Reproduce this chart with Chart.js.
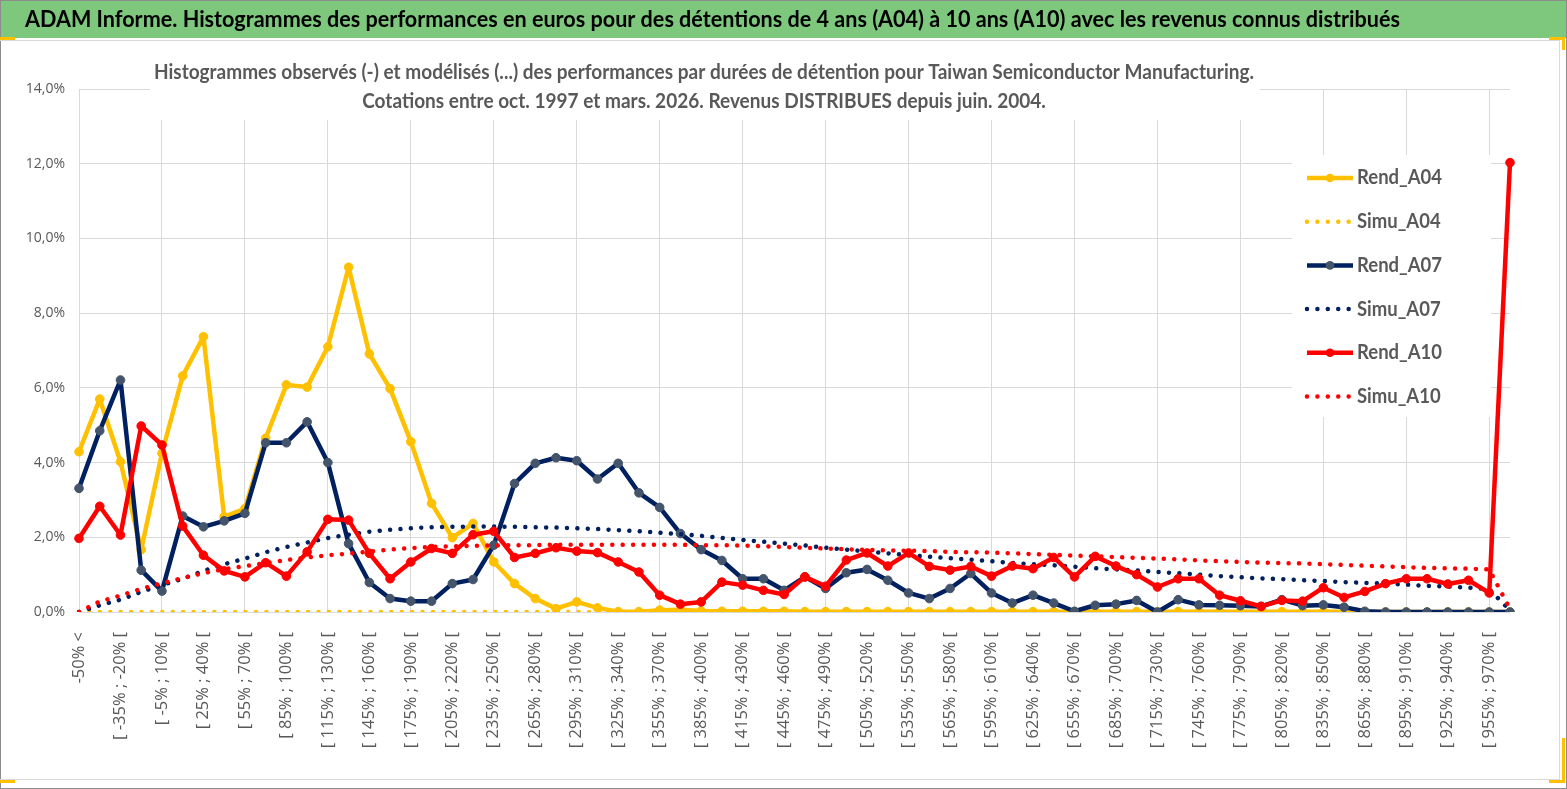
<!DOCTYPE html>
<html>
<head>
<meta charset="utf-8">
<script src="https://cdn.jsdelivr.net/npm/chart.js@4.4.1/dist/chart.umd.min.js"></script>
<style>
  html, body { margin: 0; padding: 0; background: #fff; }
  canvas { display: block; }
</style>
</head>
<body>
<canvas id="chart" width="1567" height="789"></canvas>
<script>
const titleText = "ADAM Informe. Histogrammes des performances en euros pour des détentions de 4 ans (A04) à 10 ans (A10) avec les revenus connus distribués"
const subtitleLines = [
  "Histogrammes observés (-) et modélisés (...) des performances par durées de détention pour Taiwan Semiconductor Manufacturing.",
  "Cotations entre oct. 1997 et mars. 2026. Revenus DISTRIBUES depuis juin. 2004."
]

const categories = [
  "-50% <", "[ -50% ; -35% [", "[ -35% ; -20% [", "[ -20% ; -5% [", "[ -5% ; 10% [", "[ 10% ; 25% [",
  "[ 25% ; 40% [", "[ 40% ; 55% [", "[ 55% ; 70% [", "[ 70% ; 85% [", "[ 85% ; 100% [", "[ 100% ; 115% [",
  "[ 115% ; 130% [", "[ 130% ; 145% [", "[ 145% ; 160% [", "[ 160% ; 175% [", "[ 175% ; 190% [", "[ 190% ; 205% [",
  "[ 205% ; 220% [", "[ 220% ; 235% [", "[ 235% ; 250% [", "[ 250% ; 265% [", "[ 265% ; 280% [", "[ 280% ; 295% [",
  "[ 295% ; 310% [", "[ 310% ; 325% [", "[ 325% ; 340% [", "[ 340% ; 355% [", "[ 355% ; 370% [", "[ 370% ; 385% [",
  "[ 385% ; 400% [", "[ 400% ; 415% [", "[ 415% ; 430% [", "[ 430% ; 445% [", "[ 445% ; 460% [", "[ 460% ; 475% [",
  "[ 475% ; 490% [", "[ 490% ; 505% [", "[ 505% ; 520% [", "[ 520% ; 535% [", "[ 535% ; 550% [", "[ 550% ; 565% [",
  "[ 565% ; 580% [", "[ 580% ; 595% [", "[ 595% ; 610% [", "[ 610% ; 625% [", "[ 625% ; 640% [", "[ 640% ; 655% [",
  "[ 655% ; 670% [", "[ 670% ; 685% [", "[ 685% ; 700% [", "[ 700% ; 715% [", "[ 715% ; 730% [", "[ 730% ; 745% [",
  "[ 745% ; 760% [", "[ 760% ; 775% [", "[ 775% ; 790% [", "[ 790% ; 805% [", "[ 805% ; 820% [", "[ 820% ; 835% [",
  "[ 835% ; 850% [", "[ 850% ; 865% [", "[ 865% ; 880% [", "[ 880% ; 895% [", "[ 895% ; 910% [", "[ 910% ; 925% [",
  "[ 925% ; 940% [", "[ 940% ; 955% [", "[ 955% ; 970% [", "> 970%"
]

// values in %
const rendA04 = [
  4.29, 5.70, 4.02, 1.67, 4.25, 6.32, 7.37, 2.55, 2.77, 4.65,
  6.08, 6.02, 7.10, 9.23, 6.91, 5.98, 4.56, 2.91, 1.99, 2.37,
  1.34, 0.76, 0.36, 0.09, 0.27, 0.11, 0.01, 0.01, 0.05, 0.06,
  0.03, 0.02, 0.02, 0.02, 0.02, 0.01, 0.01, 0.01, 0.01, 0.01,
  0.01, 0.01, 0.01, 0.01, 0.01, 0.01, 0.01, 0.01, 0.01, 0.01,
  0.01, 0.01, 0.01, 0.01, 0.01, 0.01, 0.01, 0.01, 0.01, 0.01,
  0.01, 0.01, 0.00, 0.00, 0.00, 0.00, 0.00, 0.00, 0.00, 0.00
]
const simuA04 = [
  0, 0, 0, 0, 0, 0, 0, 0, 0, 0,
  0, 0, 0, 0, 0, 0, 0, 0, 0, 0,
  0, 0, 0, 0, 0, 0, 0, 0, 0, 0,
  0, 0, 0, 0, 0, 0, 0, 0, 0, 0,
  0, 0, 0, 0, 0, 0, 0, 0, 0, 0,
  0, 0, 0, 0, 0, 0, 0, 0, 0, 0,
  0, 0, 0, 0, 0, 0, 0, 0, 0, 0
]
const rendA07 = [
  3.31, 4.85, 6.21, 1.12, 0.56, 2.57, 2.28, 2.44, 2.64, 4.53,
  4.53, 5.09, 4.00, 1.83, 0.79, 0.36, 0.29, 0.29, 0.76, 0.87,
  1.79, 3.44, 3.98, 4.13, 4.05, 3.56, 3.98, 3.19, 2.80, 2.10,
  1.67, 1.38, 0.89, 0.89, 0.58, 0.94, 0.63, 1.05, 1.14, 0.85,
  0.51, 0.36, 0.63, 1.03, 0.51, 0.24, 0.45, 0.24, 0.02, 0.18,
  0.21, 0.31, 0.00, 0.33, 0.19, 0.18, 0.17, 0.15, 0.33, 0.17,
  0.19, 0.13, 0.02, 0.00, 0.00, 0.00, 0.00, 0.00, 0.00, 0.00
]
const simuA07 = [
  0.00, 0.18, 0.33, 0.54, 0.72, 0.89, 1.10, 1.28, 1.43, 1.60,
  1.74, 1.86, 1.98, 2.07, 2.15, 2.20, 2.24, 2.27, 2.28, 2.29,
  2.29, 2.28, 2.27, 2.26, 2.24, 2.22, 2.19, 2.16, 2.12, 2.08,
  2.04, 1.98, 1.93, 1.88, 1.83, 1.78, 1.72, 1.67, 1.62, 1.57,
  1.52, 1.48, 1.44, 1.40, 1.36, 1.31, 1.28, 1.25, 1.21, 1.17,
  1.14, 1.11, 1.07, 1.04, 1.00, 0.96, 0.93, 0.90, 0.88, 0.85,
  0.83, 0.80, 0.78, 0.76, 0.73, 0.70, 0.68, 0.65, 0.61, 0.04
]
const rendA10 = [
  1.97, 2.83, 2.06, 4.98, 4.47, 2.30, 1.52, 1.10, 0.94, 1.32,
  0.96, 1.61, 2.48, 2.46, 1.57, 0.89, 1.34, 1.70, 1.57, 2.07,
  2.16, 1.46, 1.57, 1.72, 1.63, 1.59, 1.34, 1.07, 0.45, 0.21,
  0.27, 0.80, 0.72, 0.58, 0.47, 0.94, 0.69, 1.39, 1.58, 1.23,
  1.58, 1.22, 1.12, 1.22, 0.96, 1.23, 1.16, 1.46, 0.94, 1.49,
  1.23, 1.00, 0.67, 0.89, 0.89, 0.45, 0.30, 0.15, 0.31, 0.29,
  0.65, 0.39, 0.55, 0.76, 0.89, 0.89, 0.75, 0.85, 0.51, 12.03
]
const simuA10 = [
  0.00, 0.28, 0.44, 0.62, 0.77, 0.91, 1.04, 1.15, 1.23, 1.31,
  1.39, 1.46, 1.52, 1.56, 1.62, 1.67, 1.71, 1.74, 1.76, 1.77,
  1.78, 1.79, 1.79, 1.80, 1.80, 1.80, 1.80, 1.80, 1.80, 1.80,
  1.79, 1.79, 1.78, 1.76, 1.74, 1.72, 1.70, 1.68, 1.66, 1.65,
  1.64, 1.63, 1.61, 1.60, 1.59, 1.57, 1.55, 1.53, 1.51, 1.49,
  1.47, 1.45, 1.43, 1.41, 1.38, 1.36, 1.34, 1.32, 1.31, 1.30,
  1.28, 1.26, 1.24, 1.22, 1.20, 1.18, 1.17, 1.16, 1.14, 0.08
]

const YELLOW = "#ffc000", NAVY = "#002060", SLATE = "#44546a", RED = "#ff0000"
const TEXT_GREY = "#595959", GRID = "#d9d9d9"

function rend(label, data, line, marker, order) {
  return {
    label, data, order,
    borderColor: line, backgroundColor: marker,
    borderWidth: 4.5, tension: 0,
    borderJoinStyle: "round", borderCapStyle: "round",
    pointRadius: 4.3, pointHoverRadius: 4.3,
    pointBackgroundColor: marker, pointBorderColor: marker, pointBorderWidth: 1
  }
}
function simu(label, data, color, order) {
  return {
    label, data, order,
    borderColor: color, backgroundColor: color,
    borderWidth: 4.5, borderDash: [0.01, 10.4], borderCapStyle: "round",
    tension: 0, pointRadius: 0, pointHoverRadius: 0
  }
}

// draw text squeezed horizontally to a target width (reference uses a narrow font)
function fitText(ctx, text, x, y, width, font, color, align) {
  ctx.save()
  ctx.font = font
  ctx.fillStyle = color
  ctx.textBaseline = "middle"
  ctx.textAlign = align
  const sx = width / ctx.measureText(text).width
  ctx.translate(x, y)
  ctx.scale(sx, 1)
  ctx.fillText(text, 0, 0)
  ctx.restore()
  return sx
}

const framePlugin = {
  id: "frame",
  beforeDraw(chart) {
    const ctx = chart.ctx
    ctx.save()
    ctx.fillStyle = "#fff"
    ctx.fillRect(0, 0, 1567, 789)
    // green header
    ctx.fillStyle = "#7ec87e"
    ctx.fillRect(0, 0, 1567, 38)
    ctx.strokeStyle = "#8c8c8c"
    ctx.lineWidth = 1
    ctx.strokeRect(0.5, 0.5, 1566, 788)
    ctx.strokeStyle = GRID
    ctx.beginPath()
    ctx.moveTo(0, 40.5); ctx.lineTo(1560, 40.5)
    ctx.moveTo(1559.5, 40); ctx.lineTo(1559.5, 779)
    ctx.moveTo(0, 779.5); ctx.lineTo(1560, 779.5)
    ctx.stroke()
    // selection handles
    ctx.fillStyle = YELLOW
    ctx.fillRect(0, 37, 15, 3)
    ctx.fillRect(1549, 37, 16, 3)
    ctx.fillRect(1562, 37, 3, 13)
    ctx.fillRect(0, 780, 15, 3)
    ctx.fillRect(1549, 780, 16, 3)
    ctx.fillRect(1562, 738, 3, 45)
    ctx.restore()
    fitText(ctx, titleText, 25, 20, 1375, "bold 23px Lato", "#000", "left")
  },
  beforeDatasetsDraw(chart) {
    const ctx = chart.ctx
    ctx.save()
    ctx.fillStyle = "#fff"
    ctx.fillRect(150, 58, 1110, 62)
    ctx.fillRect(1292, 155, 199, 262)
    ctx.restore()
    const sx = fitText(ctx, subtitleLines[0], 704, 73, 1100, "bold 20px Lato", TEXT_GREY, "center")
    ctx.save()
    ctx.font = "bold 20px Lato"
    const w2 = ctx.measureText(subtitleLines[1]).width * sx
    ctx.restore()
    fitText(ctx, subtitleLines[1], 704, 102, w2, "bold 20px Lato", TEXT_GREY, "center")

    // legend
    let lsx = null
    chart.data.datasets.forEach((ds, i) => {
      const y = 178 + i * 43.7
      ctx.save()
      ctx.strokeStyle = ds.borderColor
      ctx.lineWidth = ds.borderWidth
      if (ds.borderDash) {
        ctx.setLineDash(ds.borderDash)
        ctx.lineCap = "round"
      }
      ctx.beginPath()
      ctx.moveTo(1307, y); ctx.lineTo(ds.borderDash ? 1350 : 1353, y)
      ctx.stroke()
      if (!ds.borderDash) {
        ctx.fillStyle = ds.pointBackgroundColor
        ctx.beginPath()
        ctx.arc(1330, y, 4.3, 0, Math.PI * 2)
        ctx.fill()
      }
      ctx.restore()
      ctx.save()
      ctx.font = "bold 20px Lato"
      if (lsx === null) lsx = 85 / ctx.measureText("Rend_A04").width
      const w = ctx.measureText(ds.label).width * lsx
      ctx.restore()
      fitText(ctx, ds.label, 1357, y, w, "bold 20px Lato", TEXT_GREY, "left")
    })
  }
}

new Chart(document.getElementById("chart"), {
  type: "line",
  data: {
    labels: categories,
    datasets: [
      rend("Rend_A04", rendA04, YELLOW, YELLOW, 5),
      simu("Simu_A04", simuA04, YELLOW, 4),
      rend("Rend_A07", rendA07, NAVY, SLATE, 3),
      simu("Simu_A07", simuA07, NAVY, 2),
      rend("Rend_A10", rendA10, RED, RED, 1),
      simu("Simu_A10", simuA10, RED, 0)
    ]
  },
  options: {
    responsive: false,
    animation: false,
    devicePixelRatio: 1,
    layout: { padding: { top: 89, left: 0, right: 57, bottom: 0 } },
    plugins: { legend: { display: false }, title: { display: false }, tooltip: { enabled: false } },
    scales: {
      x: {
        grid: {
          color: ctx => ctx.index % 4 === 0 ? GRID : "rgba(0,0,0,0)",
          drawTicks: false
        },
        border: { display: false },
        ticks: {
          autoSkip: false, minRotation: 90, maxRotation: 90, padding: 20,
          color: TEXT_GREY, font: { family: "Open Sans", size: 16.5 },
          callback: (v, i) => i % 2 === 0 ? categories[i] : ""
        },
        afterFit: s => { s.height = 177 }
      },
      y: {
        min: 0, max: 14,
        grid: { color: GRID, drawTicks: false },
        border: { display: false },
        ticks: {
          stepSize: 2, padding: 14,
          color: TEXT_GREY, font: { family: "Open Sans", size: 14 },
          callback: v => v.toFixed(1).replace(".", ",") + "%"
        },
        afterFit: s => { s.width = 79 }
      }
    }
  },
  plugins: [framePlugin]
})
</script>
</body>
</html>
